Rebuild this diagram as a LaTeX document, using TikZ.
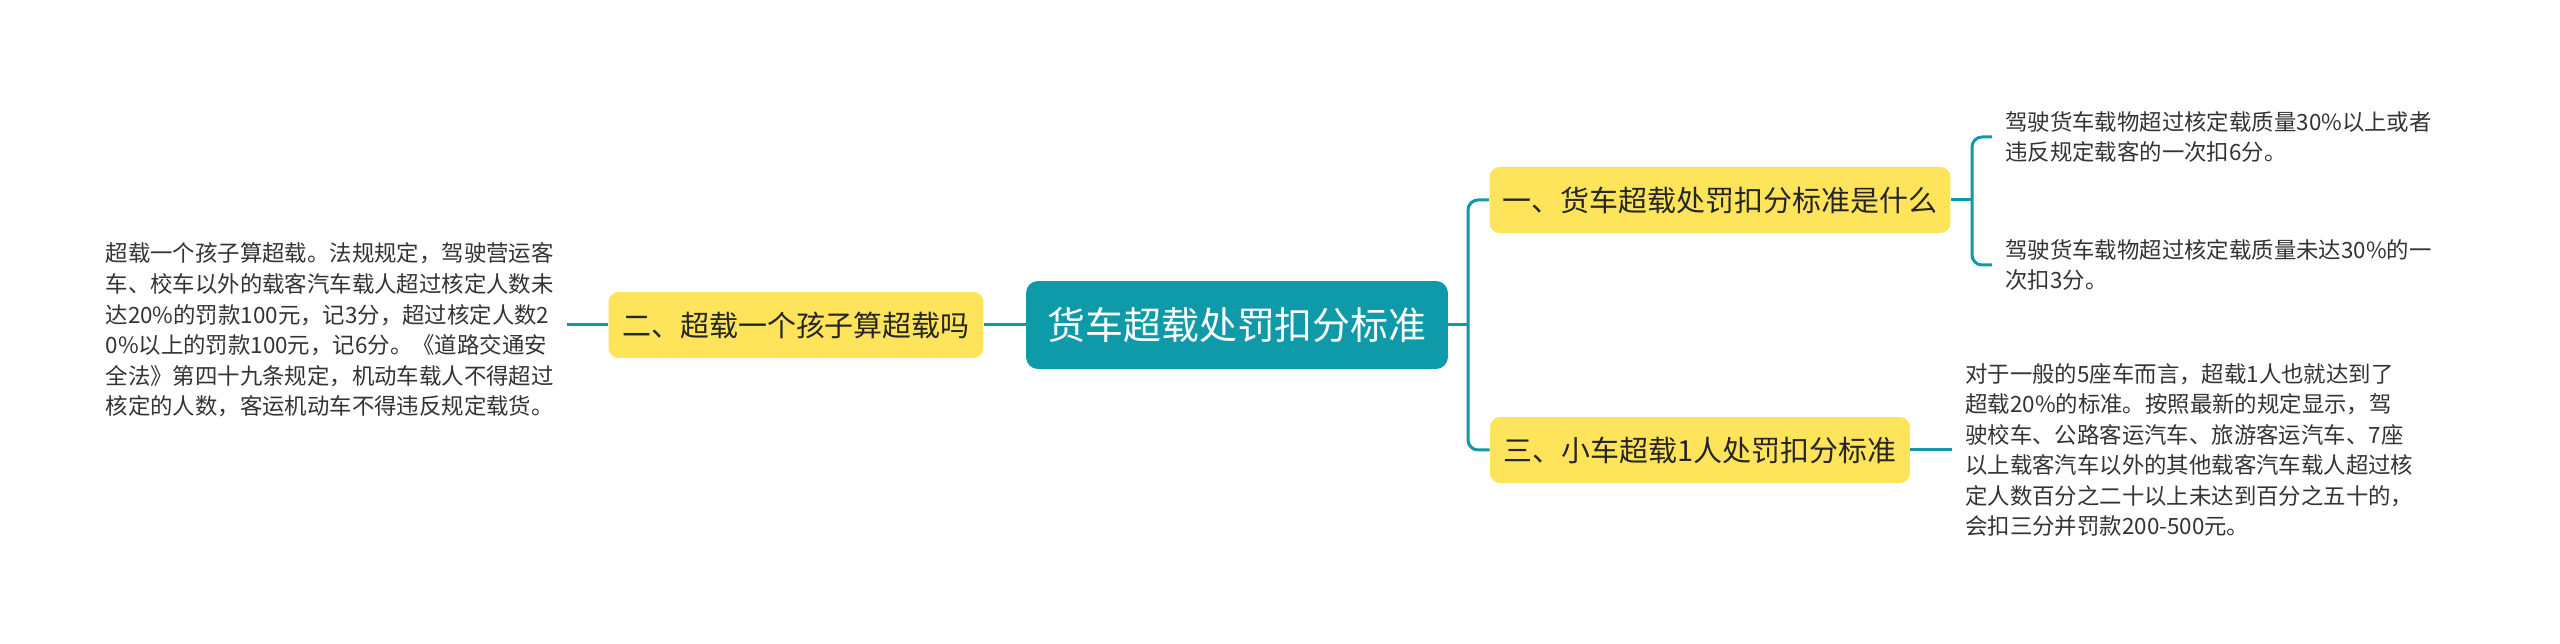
\documentclass[tikz,border=0pt]{standalone}
\usepackage{fontspec}
\setmainfont{Noto Sans CJK SC}
\usetikzlibrary{positioning}
\definecolor{teal0}{HTML}{0E9AA8}
\definecolor{yel0}{HTML}{FDE45B}
\definecolor{ink}{HTML}{333333}

\begin{document}
\begin{tikzpicture}[x=0.02cm, y=-0.02cm,
    hub/.style={fill=teal0, text=white, rounded corners=0.24cm, minimum width=8.44cm,
      minimum height=1.76cm, inner sep=0pt, font=\fontsize{21.6pt}{26pt}\selectfont},
    topic/.style={fill=yel0, text=black!85, rounded corners=0.2cm, minimum height=1.32cm,
      inner sep=0pt, font=\fontsize{16.5pt}{20pt}\selectfont},
    leaf/.style={text=ink, align=left, inner sep=0.26cm, font=\fontsize{12.75pt}{17.4pt}\selectfont},
    link/.style={draw=teal0, line width=0.06cm}]
  \useasboundingbox (0,0) rectangle (2560,644);
  \node[hub] (hub) at (1237,325) {货车超载处罚扣分标准};
  \node[topic, minimum width=7.5cm] (q2) at (796,325) {二、超载一个孩子算超载吗};
  \node[topic, minimum width=9.22cm] (q1) at (1720,200) {一、货车超载处罚扣分标准是什么};
  \node[topic, minimum width=8.4cm] (q3) at (1700,450) {三、小车超载1人处罚扣分标准};
  \node[leaf, anchor=east] (lt) at (567,330) {超载一个孩子算超载。法规规定，驾驶营运客\\
    车、校车以外的载客汽车载人超过核定人数未\\
    达20\%的罚款100元，记3分，超过核定人数2\\
    0\%以上的罚款100元，记6分。《道路交通安\\
    全法》第四十九条规定，机动车载人不得超过\\
    核定的人数，客运机动车不得违反规定载货。};
  \node[leaf, anchor=west] (a1) at (1992,137) {驾驶货车载物超过核定载质量30\%以上或者\\
    违反规定载客的一次扣6分。};
  \node[leaf, anchor=west] (a2) at (1992,265) {驾驶货车载物超过核定载质量未达30\%的一\\
    次扣3分。};
  \node[leaf, anchor=west] (a3) at (1952,450) {对于一般的5座车而言，超载1人也就达到了\\
    超载20\%的标准。按照最新的规定显示，驾\\
    驶校车、公路客运汽车、旅游客运汽车、7座\\
    以上载客汽车以外的其他载客汽车载人超过核\\
    定人数百分之二十以上未达到百分之五十的，\\
    会扣三分并罚款200-500元。};
  \coordinate (trunk) at (1468,325);
  \coordinate (fork) at (1972,200);
  \draw[link] (hub.east) -- (trunk);
  \draw[link, rounded corners=0.2cm] (trunk) |- (q1.west);
  \draw[link, rounded corners=0.2cm] (trunk) |- (q3.west);
  \draw[link] (q1.east) -- (fork);
  \draw[link, rounded corners=0.2cm] (fork) |- (a1.west);
  \draw[link, rounded corners=0.2cm] (fork) |- (a2.west);
  \draw[link] (q3.east) -- (a3.west);
  \draw[link] (hub.west) -- (q2.east);
  \draw[link] (q2.west) -- (q2.west -| lt.east);
\end{tikzpicture}
\end{document}
